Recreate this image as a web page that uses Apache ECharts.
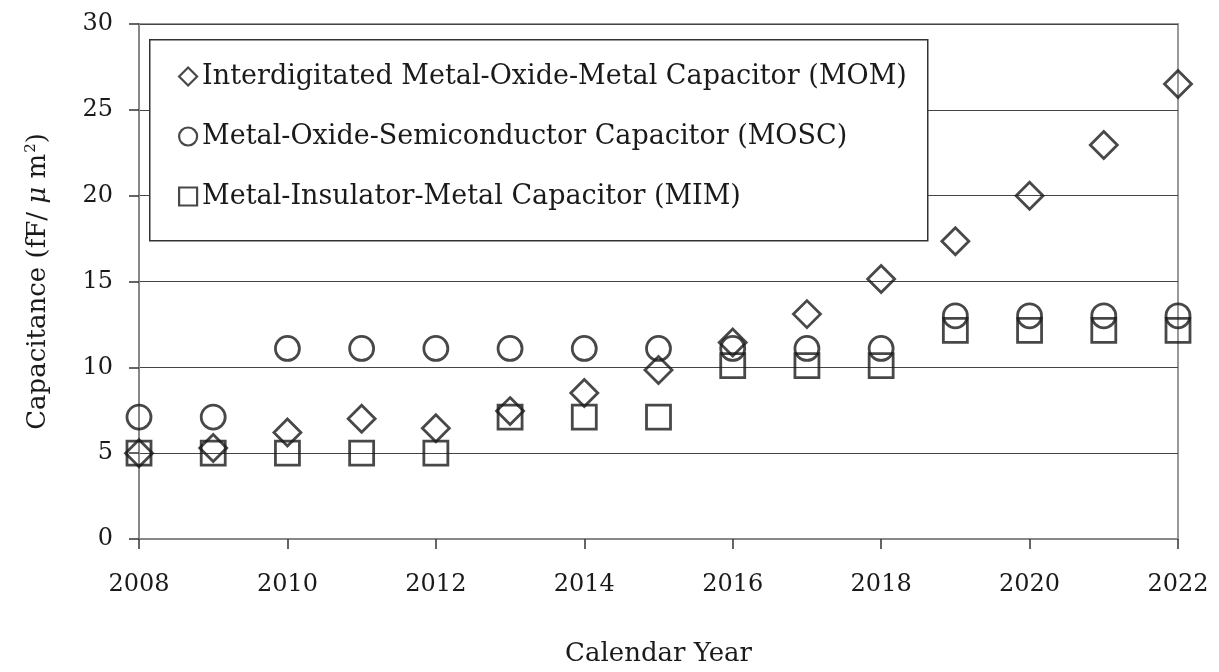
<!DOCTYPE html>
<html>
<head>
<meta charset="utf-8">
<script src="https://cdn.jsdelivr.net/npm/echarts@6/dist/echarts.min.js"></script>
<style>
  html, body { margin: 0; padding: 0; background: #fff; }
  #chart { width: 1219px; height: 672px; }
</style>
</head>
<body>
<div id="chart"></div>
<script>
const years = [2008, 2009, 2010, 2011, 2012, 2013, 2014, 2015, 2016, 2017, 2018, 2019, 2020, 2021, 2022]
const momValues = [5.0, 5.3, 6.2, 7.0, 6.45, 7.45, 8.5, 9.85, 11.45, 13.1, 15.15, 17.35, 20.0, 22.95, 26.5]
const moscValues = [7.1, 7.1, 11.1, 11.1, 11.1, 11.1, 11.1, 11.1, 11.1, 11.1, 11.1, 13.0, 13.0, 13.0, 13.0]
const mimValues = [5.0, 5.0, 5.0, 5.0, 5.0, 7.1, 7.1, 7.1, 10.1, 10.1, 10.1, 12.15, 12.15, 12.15, 12.15]
const seriesNames = [
  'Interdigitated Metal-Oxide-Metal Capacitor (MOM)',
  'Metal-Oxide-Semiconductor Capacitor (MOSC)',
  'Metal-Insulator-Metal Capacitor (MIM)'
]

const font = 'DejaVu Serif'
const ink = '#1a1a1a'

const pairs = (vals) => years.map((y, i) => [y, vals[i]])

const markerStyle = {
  color: 'transparent',
  borderColor: ink,
  borderWidth: 2.8
}

const legendIcon = { color: 'transparent', borderColor: ink, borderWidth: 2.2 }

const chart = echarts.init(document.getElementById('chart'))

const option = {
  animation: false,
  backgroundColor: '#fff',
  grid: {
    left: 139,
    right: 41,
    top: 24,
    bottom: 130,
    show: true,
    borderColor: '#999',
    borderWidth: 2
  },
  graphic: [
    {
      type: 'rect',
      left: 149,
      top: 39,
      shape: { width: 778, height: 201 },
      style: { fill: '#fff', stroke: '#333', lineWidth: 1.5 },
      z: 5
    }
  ],
  legend: {
    orient: 'vertical',
    left: 178,
    top: 61,
    padding: 0,
    itemGap: 29,
    itemWidth: 18,
    itemHeight: 18,
    z: 10,
    textStyle: {
      fontFamily: font,
      fontSize: 27,
      color: ink,
      lineHeight: 31
    },
    data: [
      { name: seriesNames[0], icon: 'diamond', itemStyle: legendIcon },
      { name: seriesNames[1], icon: 'circle', itemStyle: legendIcon },
      { name: seriesNames[2], icon: 'rect', itemStyle: legendIcon }
    ]
  },
  xAxis: {
    type: 'value',
    min: 2008,
    max: 2022,
    interval: 2,
    name: 'Calendar Year',
    nameLocation: 'middle',
    nameGap: 102,
    nameTextStyle: { fontFamily: font, fontSize: 26, color: ink },
    axisLine: { show: true, lineStyle: { color: '#888', width: 2 } },
    axisTick: { show: true, length: 10, lineStyle: { color: '#333', width: 1.5 } },
    axisLabel: {
      fontFamily: font,
      fontSize: 24,
      color: ink,
      margin: 34,
      formatter: (v) => String(v)
    },
    splitLine: { show: false }
  },
  yAxis: {
    type: 'value',
    min: 0,
    max: 30,
    interval: 5,
    name: '{a|Capacitance (fF/ }{i|μ}{a| m}{s|2}{a|)}',
    nameLocation: 'middle',
    nameGap: 86,
    nameTextStyle: {
      rich: {
        a: { fontFamily: font, fontSize: 26, color: ink },
        i: { fontFamily: font, fontSize: 26, fontStyle: 'italic', color: ink },
        s: { fontFamily: font, fontSize: 15, color: ink, verticalAlign: 'bottom', padding: [0, 0, 14, 1] }
      }
    },
    axisLine: { show: true, lineStyle: { color: '#888', width: 2 } },
    axisTick: { show: true, length: 10, lineStyle: { color: '#333', width: 1.5 } },
    axisLabel: {
      fontFamily: font,
      fontSize: 24,
      color: ink,
      margin: 26
    },
    splitLine: { show: true, lineStyle: { color: '#444', width: 1.2 } }
  },
  series: [
    {
      name: seriesNames[0],
      type: 'scatter',
      symbol: 'diamond',
      symbolSize: 27,
      itemStyle: markerStyle,
      data: pairs(momValues),
      z: 3
    },
    {
      name: seriesNames[1],
      type: 'scatter',
      symbol: 'circle',
      symbolSize: 24,
      itemStyle: markerStyle,
      data: pairs(moscValues),
      z: 3
    },
    {
      name: seriesNames[2],
      type: 'scatter',
      symbol: 'rect',
      symbolSize: 24,
      itemStyle: markerStyle,
      data: pairs(mimValues),
      z: 3
    }
  ]
}

chart.setOption(option)
</script>
</body>
</html>
